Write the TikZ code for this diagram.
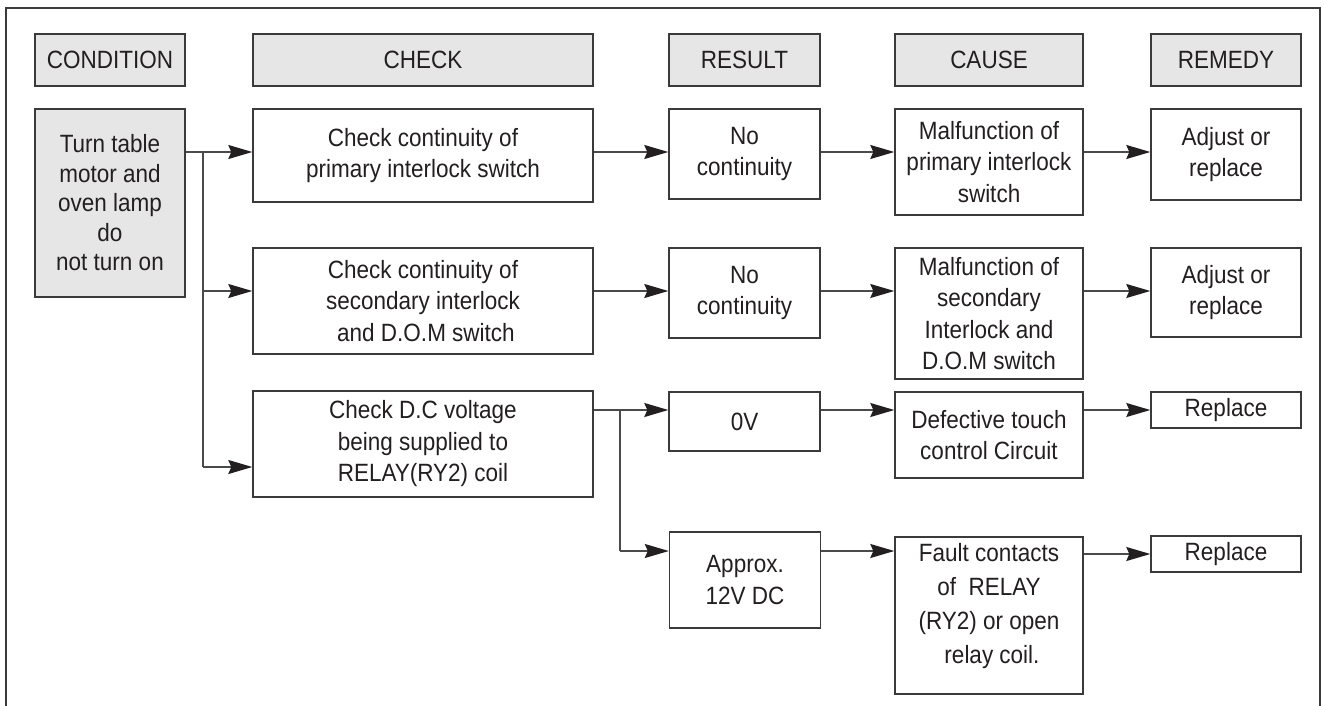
\documentclass[tikz,border=0pt]{standalone}
\usepackage{fontspec}
\setmainfont{Liberation Sans}[FakeStretch=0.9]
\usetikzlibrary{arrows.meta}
\definecolor{boxline}{HTML}{3A3A3A}
\definecolor{linec}{HTML}{4A4A4A}
\definecolor{textc}{HTML}{231F20}
\definecolor{hdrfill}{HTML}{E6E6E6}
\begin{document}
\begin{tikzpicture}[x=1pt,y=-1pt,
  every node/.style={font=\fontsize{25}{31.5}\selectfont, text=textc},
  box/.style={draw=boxline, line width=1.4pt, fill=white, inner sep=0pt, align=center},
  hbox/.style={box, fill=hdrfill},
  conn/.style={draw=linec, line width=1.4pt},
  arr/.style={conn, -{Stealth[length=24pt,width=14pt,inset=3pt,color=textc]}}
]
\useasboundingbox (0,0) rectangle (1324,706);
\draw[draw=boxline, line width=2pt] (6,8) rectangle (1320,740);

% headers
\node[hbox, minimum width=150pt, minimum height=52pt] (hcond) at (110,60) {CONDITION};
\node[hbox, minimum width=340pt, minimum height=52pt] (hcheck) at (423,60) {CHECK};
\node[hbox, minimum width=151pt, minimum height=52pt] (hresult) at (744.5,60) {RESULT};
\node[hbox, minimum width=188pt, minimum height=52pt] (hcause) at (989,60) {CAUSE};
\node[hbox, minimum width=150pt, minimum height=52pt] (hremedy) at (1226,60) {REMEDY};

% condition
\node[hbox, minimum width=150pt, minimum height=188pt, font=\fontsize{25}{29.5}\selectfont] (cond) at (110,203) {Turn table\\motor and\\oven lamp\\do\\not turn on};

% row 1
\node[box, minimum width=340pt, minimum height=93pt] (check1) at (423,155.5) {Check continuity of\\primary interlock switch};
\node[box, minimum width=151pt, minimum height=90pt] (res1) at (744.5,154) {No\\continuity};
\node[box, minimum width=188pt, minimum height=106pt] (cause1) at (989,162) {Malfunction of\\primary interlock\\switch};
\node[box, minimum width=150pt, minimum height=91pt] (rem1) at (1226,154.5) {Adjust or\\replace};

% row 2
\node[box, minimum width=340pt, minimum height=106pt] (check2) at (423,301) {Check continuity of\\secondary interlock\\\hspace{6pt}and D.O.M switch};
\node[box, minimum width=151pt, minimum height=90pt] (res2) at (744.5,293) {No\\continuity};
\node[box, minimum width=188pt, minimum height=131pt] (cause2) at (989,313.5) {Malfunction of\\secondary\\Interlock and\\D.O.M switch};
\node[box, minimum width=150pt, minimum height=89pt] (rem2) at (1226,292.5) {Adjust or\\replace};

% row 3
\node[box, minimum width=340pt, minimum height=106pt] (check3) at (423,444) {Check D.C voltage\\being supplied to\\RELAY(RY2) coil};
\node[box, minimum width=151pt, minimum height=59pt] (res3) at (744.5,421.5) {0V};
\node[box, minimum width=188pt, minimum height=86pt] (cause3) at (989,435) {Defective touch\\control Circuit};
\node[box, minimum width=150pt, minimum height=36pt] (rem3) at (1226,410) {Replace};

% row 4
\node[box, minimum width=151pt, minimum height=96pt] (res4) at (745,580) {Approx.\\12V DC};
\node[box, minimum width=188pt, minimum height=157pt, font=\fontsize{25}{34}\selectfont] (cause4) at (989,615.5) {\raisebox{10pt}[\height][\depth]{\begin{tabular}{@{}c@{}}Fault contacts\\of\ \ RELAY\\(RY2) or open\\\hspace{6pt}relay coil.\end{tabular}}};
\node[box, minimum width=150pt, minimum height=36pt] (rem4) at (1226,554) {Replace};

% levels and trunks
\coordinate (y1) at (0,152);
\coordinate (y2) at (0,291);
\coordinate (y3) at (0,467);
\coordinate (y4) at (0,410);
\coordinate (y5) at (0,551);
\coordinate (y6) at (0,554);
\coordinate (t1) at (203,0);
\coordinate (t2) at (620,0);

% from condition
\draw[arr] (cond.east |- y1) -- (check1.west |- y1);
\draw[conn] (t1 |- y1) -- (t1 |- y3);
\draw[arr] (t1 |- y2) -- (check2.west |- y2);
\draw[arr] (t1 |- y3) -- (check3.west |- y3);

% row 1
\draw[arr] (check1.east |- y1) -- (res1.west |- y1);
\draw[arr] (res1.east |- y1) -- (cause1.west |- y1);
\draw[arr] (cause1.east |- y1) -- (rem1.west |- y1);

% row 2
\draw[arr] (check2.east |- y2) -- (res2.west |- y2);
\draw[arr] (res2.east |- y2) -- (cause2.west |- y2);
\draw[arr] (cause2.east |- y2) -- (rem2.west |- y2);

% row 3
\draw[arr] (check3.east |- y4) -- (res3.west |- y4);
\draw[conn] (t2 |- y4) -- (t2 |- y5);
\draw[arr] (t2 |- y5) -- (res4.west |- y5);
\draw[arr] (res3.east |- y4) -- (cause3.west |- y4);
\draw[arr] (cause3.east |- y4) -- (rem3.west |- y4);

% row 4
\draw[arr] (res4.east |- y5) -- (cause4.west |- y5);
\draw[arr] (cause4.east |- y6) -- (rem4.west |- y6);
\end{tikzpicture}
\end{document}
